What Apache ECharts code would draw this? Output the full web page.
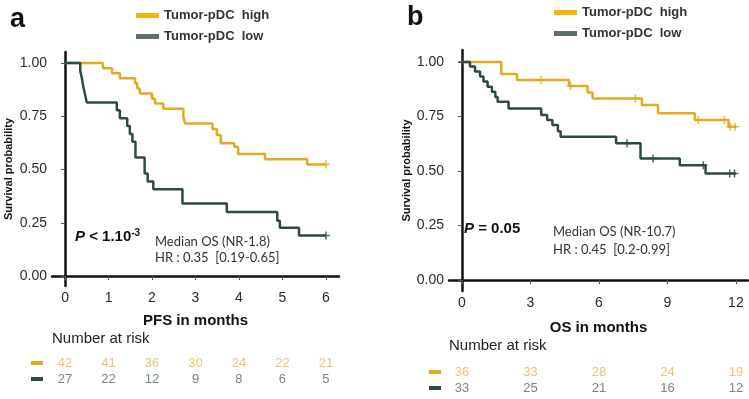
<!DOCTYPE html>
<html>
<head>
<meta charset="utf-8">
<script src="https://cdn.jsdelivr.net/npm/echarts@6/dist/echarts.min.js"></script>
<style>
  html, body { margin: 0; padding: 0; background: #fff; }
  #chart { width: 749px; height: 399px; }
</style>
</head>
<body>
<div id="chart"></div>
<script>
// Panel a: PFS
const pfsHighT = [0, 0.87, 1.08, 1.26, 1.61, 1.66, 1.72, 2.0, 2.07, 2.26, 2.72, 2.76, 3.39, 3.49, 3.58, 3.89, 3.98, 4.6, 5.57, 6.0];
const pfsHighS = [1, 0.976, 0.952, 0.929, 0.905, 0.881, 0.857, 0.833, 0.81, 0.786, 0.75, 0.716, 0.69, 0.662, 0.624, 0.607, 0.573, 0.548, 0.524, 0.524];
const pfsLowT = [0, 0.35, 0.39, 0.42, 0.46, 0.5, 1.19, 1.26, 1.43, 1.49, 1.55, 1.62, 1.83, 1.9, 2.03, 2.7, 3.72, 4.88, 4.94, 5.38, 6.0];
const pfsLowS = [1, 0.963, 0.926, 0.889, 0.852, 0.815, 0.778, 0.741, 0.704, 0.667, 0.63, 0.556, 0.481, 0.444, 0.407, 0.34, 0.30, 0.26, 0.227, 0.19, 0.19];
const pfsHighCensorT = [6.0];
const pfsHighCensorS = [0.524];
const pfsLowCensorT = [6.0];
const pfsLowCensorS = [0.19];
const pfsTicks = [0, 1, 2, 3, 4, 5, 6];
const pfsRiskHigh = [42, 41, 36, 30, 24, 22, 21];
const pfsRiskLow = [27, 22, 12, 9, 8, 6, 5];

// Panel b: OS
const osHighT = [0, 1.72, 2.41, 4.69, 5.5, 5.72, 7.88, 8.59, 10.2, 11.68, 12.0];
const osHighS = [1, 0.945, 0.918, 0.89, 0.86, 0.833, 0.803, 0.765, 0.734, 0.703, 0.703];
const osLowT = [0, 0.35, 0.57, 0.79, 0.94, 1.12, 1.31, 1.46, 1.56, 2.04, 3.47, 3.73, 3.96, 4.2, 4.32, 6.75, 7.82, 9.54, 10.67, 12.0];
const osLowS = [1, 0.979, 0.956, 0.933, 0.91, 0.887, 0.864, 0.84, 0.818, 0.787, 0.757, 0.734, 0.711, 0.683, 0.657, 0.627, 0.558, 0.527, 0.489, 0.489];
const osHighCensorT = [3.47, 4.75, 7.6, 10.35, 11.5, 11.75, 11.97];
const osHighCensorS = [0.918, 0.89, 0.833, 0.734, 0.734, 0.703, 0.703];
const osLowCensorT = [0, 7.23, 8.37, 10.57, 11.73, 11.94];
const osLowCensorS = [1, 0.627, 0.558, 0.527, 0.489, 0.489];
const osTicks = [0, 3, 6, 9, 12];
const osRiskHigh = [36, 33, 28, 24, 19];
const osRiskLow = [33, 25, 21, 16, 12];

const yTicks = [0, 0.25, 0.5, 0.75, 1];

const HIGH = '#E3AA22';
const LOW = '#2E4A48';
const HIGH_TXT = '#E4B54E';
const LOW_TXT = '#52666A';
const FONT = 'Liberation Sans';
const PLUS = 'path://M4,0H6V4H10V6H6V10H4V6H0V4H4Z';
const NAME_HIGH = 'Tumor-pDC  high';
const NAME_LOW = 'Tumor-pDC  low';

const zip = (a, b) => a.map((v, i) => [v, b[i]]);
const riskData = (t, high, low) => t.map((v, i) => [v, 0.5, high[i]]).concat(t.map((v, i) => [v, 1.5, low[i]]));

function plotX(min, max, ticks, name, gap) {
  return {
    type: 'value', min, max,
    name, nameLocation: 'middle', nameGap: gap,
    nameTextStyle: { fontFamily: FONT, fontWeight: 'bold', fontSize: 15, color: '#111' },
    axisLine: { lineStyle: { color: '#111', width: 2.5 } },
    axisTick: { customValues: ticks, length: 4, lineStyle: { color: '#555' } },
    axisLabel: { customValues: ticks, fontFamily: FONT, fontSize: 14, color: '#2b2b2b', margin: 5 },
    splitLine: { show: false }
  };
}
function plotY(min, max, gap) {
  return {
    type: 'value', min, max,
    name: 'Survival probability', nameLocation: 'middle', nameGap: gap, nameRotate: 90,
    nameTextStyle: { fontFamily: FONT, fontWeight: 'bold', fontSize: 11, color: '#111' },
    axisLine: { show: true, lineStyle: { color: '#111', width: 2.5 } },
    axisTick: { show: true, customValues: yTicks, length: 4, lineStyle: { color: '#555' } },
    axisLabel: { customValues: yTicks, fontFamily: FONT, fontSize: 14, color: '#2b2b2b', margin: 5,
      formatter: v => v.toFixed(2) },
    splitLine: { show: false }
  };
}
function hiddenAxis(extra) {
  return Object.assign({ type: 'value', show: false, splitLine: { show: false } }, extra);
}
function km(name, data, color, xi) {
  return { name, type: 'line', step: 'end', data, xAxisIndex: xi, yAxisIndex: xi,
    showSymbol: false, symbol: 'none', color,
    lineStyle: { color, width: 2.5 }, itemStyle: { color }, z: 3 };
}
function censor(data, color, xi) {
  return { type: 'scatter', data, xAxisIndex: xi, yAxisIndex: xi, symbol: PLUS, symbolSize: 8,
    itemStyle: { color }, z: 4 };
}
function riskSeries(t, high, low, xi) {
  return { type: 'scatter', data: riskData(t, high, low), xAxisIndex: xi, yAxisIndex: xi, symbolSize: 2,
    itemStyle: { color: 'rgba(0,0,0,0)' },
    label: { show: true, position: 'inside',
      formatter: p => (p.value[1] < 1 ? '{h|' : '{l|') + p.value[2] + '}',
      rich: { h: { color: HIGH_TXT, fontFamily: FONT, fontSize: 13 },
              l: { color: LOW_TXT, fontFamily: FONT, fontSize: 13 } } } };
}
function legendOf(left, top) {
  return {
    left, top, orient: 'vertical', icon: 'rect', itemWidth: 23, itemHeight: 5, itemGap: 8,
    selectedMode: false,
    textStyle: { fontFamily: FONT, fontWeight: 'bold', fontSize: 13, color: '#333' },
    data: [{ name: NAME_HIGH, itemStyle: { color: '#F2B705' } },
           { name: NAME_LOW, itemStyle: { color: '#5E6F6C' } }]
  };
}
function txt(left, top, text, style) {
  return { type: 'text', left, top, style: Object.assign({ text, fontFamily: FONT, fill: '#222' }, style) };
}
function dash(x, y, color) {
  return { type: 'rect', shape: { x, y, width: 12, height: 4 }, style: { fill: color } };
}
function grid(left, top, width, height) {
  return { left, top, width, height, containLabel: false, outerBoundsMode: 'none' };
}

const option = {
  backgroundColor: '#fff',
  animation: false,
  legend: [legendOf(131, 4), legendOf(549, 1)],
  grid: [
    grid(52, 52, 287, 234),
    grid(449, 50, 299, 241),
    grid(52, 355, 287, 32),
    grid(449, 364, 299, 32)
  ],
  xAxis: [
    Object.assign(plotX(-0.3, 6.3, pfsTicks, 'PFS in months', 27), { gridIndex: 0 }),
    Object.assign(plotX(-0.57, 12.53, osTicks, 'OS in months', 29), { gridIndex: 1 }),
    hiddenAxis({ gridIndex: 2, min: -0.3, max: 6.3 }),
    hiddenAxis({ gridIndex: 3, min: -0.57, max: 12.53 })
  ],
  yAxis: [
    Object.assign(plotY(-0.047, 1.052, 38), { gridIndex: 0 }),
    Object.assign(plotY(-0.05, 1.055, 36), { gridIndex: 1 }),
    hiddenAxis({ gridIndex: 2, min: 0, max: 2, inverse: true }),
    hiddenAxis({ gridIndex: 3, min: 0, max: 2, inverse: true })
  ],
  series: [
    km(NAME_HIGH, zip(pfsHighT, pfsHighS), HIGH, 0),
    km(NAME_LOW, zip(pfsLowT, pfsLowS), LOW, 0),
    censor(zip(pfsHighCensorT, pfsHighCensorS), HIGH, 0),
    censor(zip(pfsLowCensorT, pfsLowCensorS), LOW, 0),
    km(NAME_HIGH, zip(osHighT, osHighS), HIGH, 1),
    km(NAME_LOW, zip(osLowT, osLowS), LOW, 1),
    censor(zip(osHighCensorT, osHighCensorS), HIGH, 1),
    censor(zip(osLowCensorT, osLowCensorS), LOW, 1),
    riskSeries(pfsTicks, pfsRiskHigh, pfsRiskLow, 2),
    riskSeries(osTicks, osRiskHigh, osRiskLow, 3)
  ],
  graphic: [
    txt(10, 6, 'a', { fontSize: 27, fontWeight: 'bold', fill: '#111' }),
    txt(407, 4, 'b', { fontSize: 27, fontWeight: 'bold', fill: '#111' }),
    {
      type: 'text', left: 75, top: 228,
      style: {
        text: '{p|P}{b| < 1.10}{s|-3}', fontFamily: FONT, fill: '#111',
        rich: {
          p: { fontFamily: FONT, fontSize: 15, fontWeight: 'bold', fontStyle: 'italic', lineHeight: 18, fill: '#111' },
          b: { fontFamily: FONT, fontSize: 15, fontWeight: 'bold', lineHeight: 18, fill: '#111' },
          s: { fontFamily: FONT, fontSize: 10, fontWeight: 'bold', lineHeight: 18, verticalAlign: 'top', fill: '#111' }
        }
      }
    },
    {
      type: 'text', left: 464, top: 221,
      style: {
        text: '{p|P}{b| = 0.05}', fontFamily: FONT, fill: '#111',
        rich: {
          p: { fontFamily: FONT, fontSize: 15, fontWeight: 'bold', fontStyle: 'italic', lineHeight: 18, fill: '#111' },
          b: { fontFamily: FONT, fontSize: 15, fontWeight: 'bold', lineHeight: 18, fill: '#111' }
        }
      }
    },
    txt(155, 235, 'Median OS (NR-1.8)', { fontFamily: 'Lato', fontSize: 13, fill: '#333' }),
    txt(155, 251, 'HR : 0.35  [0.19-0.65]', { fontFamily: 'Lato', fontSize: 13, fill: '#333' }),
    txt(553, 225, 'Median OS (NR-10.7)', { fontFamily: 'Lato', fontSize: 13, fill: '#333' }),
    txt(553, 243, 'HR : 0.45  [0.2-0.99]', { fontFamily: 'Lato', fontSize: 13, fill: '#333' }),
    txt(52, 331, 'Number at risk', { fontSize: 15, fill: '#222' }),
    txt(449, 338, 'Number at risk', { fontSize: 15, fill: '#222' }),
    dash(31, 361, '#E3AA22'),
    dash(31, 377, '#2E4A48'),
    dash(429, 370, '#E3AA22'),
    dash(429, 386, '#2E4A48')
  ]
};

const chart = echarts.init(document.getElementById('chart'), null, { renderer: 'canvas' });
chart.setOption(option);
</script>
</body>
</html>
